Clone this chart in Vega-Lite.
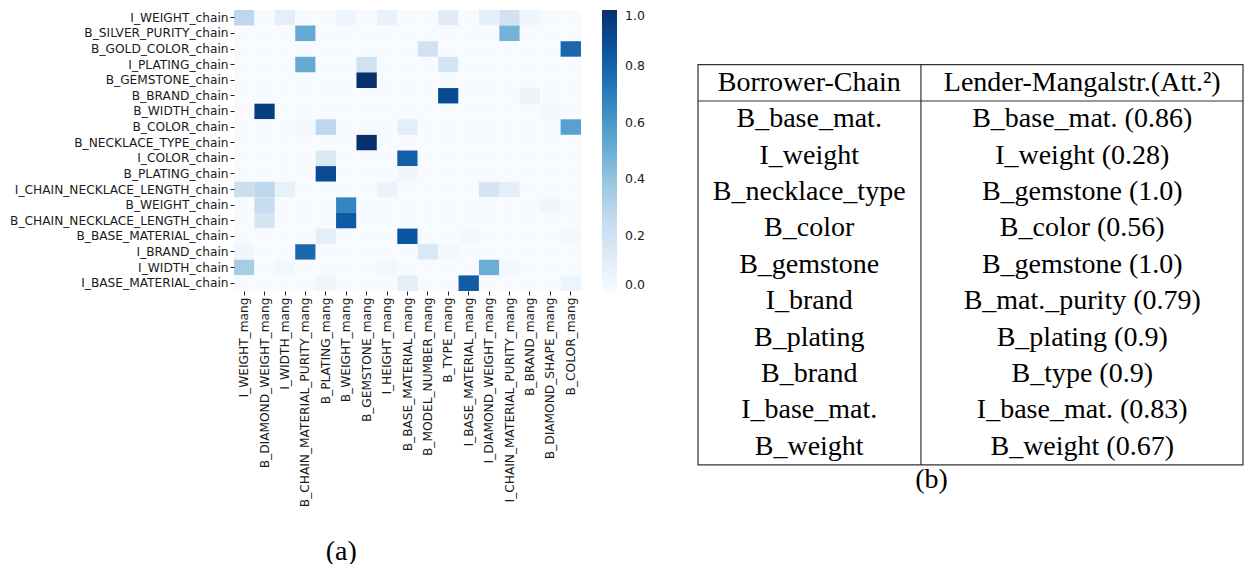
{
  "$schema": "https://vega.github.io/schema/vega-lite/v6.json",
  "padding": {"left": 9, "top": 10, "right": 0, "bottom": 0},
  "config": {"view": {"stroke": null}, "font": "DejaVu Sans"},
  "resolve": {"scale": {"color": "independent"}, "legend": {"color": "independent"}},
  "datasets": {
    "rowNames": [
      {"r": 0, "rn": "I_WEIGHT_chain"}, {"r": 1, "rn": "B_SILVER_PURITY_chain"}, {"r": 2, "rn": "B_GOLD_COLOR_chain"},
      {"r": 3, "rn": "I_PLATING_chain"}, {"r": 4, "rn": "B_GEMSTONE_chain"}, {"r": 5, "rn": "B_BRAND_chain"},
      {"r": 6, "rn": "B_WIDTH_chain"}, {"r": 7, "rn": "B_COLOR_chain"}, {"r": 8, "rn": "B_NECKLACE_TYPE_chain"},
      {"r": 9, "rn": "I_COLOR_chain"}, {"r": 10, "rn": "B_PLATING_chain"}, {"r": 11, "rn": "I_CHAIN_NECKLACE_LENGTH_chain"},
      {"r": 12, "rn": "B_WEIGHT_chain"}, {"r": 13, "rn": "B_CHAIN_NECKLACE_LENGTH_chain"}, {"r": 14, "rn": "B_BASE_MATERIAL_chain"},
      {"r": 15, "rn": "I_BRAND_chain"}, {"r": 16, "rn": "I_WIDTH_chain"}, {"r": 17, "rn": "I_BASE_MATERIAL_chain"}
    ],
    "colNames": [
      {"c": 0, "cn": "I_WEIGHT_mang"}, {"c": 1, "cn": "B_DIAMOND_WEIGHT_mang"}, {"c": 2, "cn": "I_WIDTH_mang"},
      {"c": 3, "cn": "B_CHAIN_MATERIAL_PURITY_mang"}, {"c": 4, "cn": "B_PLATING_mang"}, {"c": 5, "cn": "B_WEIGHT_mang"},
      {"c": 6, "cn": "B_GEMSTONE_mang"}, {"c": 7, "cn": "I_HEIGHT_mang"}, {"c": 8, "cn": "B_BASE_MATERIAL_mang"},
      {"c": 9, "cn": "B_MODEL_NUMBER_mang"}, {"c": 10, "cn": "B_TYPE_mang"}, {"c": 11, "cn": "I_BASE_MATERIAL_mang"},
      {"c": 12, "cn": "I_DIAMOND_WEIGHT_mang"}, {"c": 13, "cn": "I_CHAIN_MATERIAL_PURITY_mang"}, {"c": 14, "cn": "B_BRAND_mang"},
      {"c": 15, "cn": "B_DIAMOND_SHAPE_mang"}, {"c": 16, "cn": "B_COLOR_mang"}
    ],
    "cells": [
      {"r":0,"c":0,"v":0.28},{"r":0,"c":1,"v":0},{"r":0,"c":2,"v":0.1},{"r":0,"c":3,"v":0},{"r":0,"c":4,"v":0},{"r":0,"c":5,"v":0.05},{"r":0,"c":6,"v":0},{"r":0,"c":7,"v":0.07},{"r":0,"c":8,"v":0},{"r":0,"c":9,"v":0},{"r":0,"c":10,"v":0.12},{"r":0,"c":11,"v":0},{"r":0,"c":12,"v":0.09},{"r":0,"c":13,"v":0.2},{"r":0,"c":14,"v":0.04},{"r":0,"c":15,"v":0},{"r":0,"c":16,"v":0},
      {"r":1,"c":0,"v":0},{"r":1,"c":1,"v":0},{"r":1,"c":2,"v":0},{"r":1,"c":3,"v":0.52},{"r":1,"c":4,"v":0},{"r":1,"c":5,"v":0},{"r":1,"c":6,"v":0},{"r":1,"c":7,"v":0},{"r":1,"c":8,"v":0},{"r":1,"c":9,"v":0},{"r":1,"c":10,"v":0},{"r":1,"c":11,"v":0},{"r":1,"c":12,"v":0},{"r":1,"c":13,"v":0.48},{"r":1,"c":14,"v":0},{"r":1,"c":15,"v":0},{"r":1,"c":16,"v":0},
      {"r":2,"c":0,"v":0},{"r":2,"c":1,"v":0},{"r":2,"c":2,"v":0},{"r":2,"c":3,"v":0},{"r":2,"c":4,"v":0},{"r":2,"c":5,"v":0},{"r":2,"c":6,"v":0},{"r":2,"c":7,"v":0},{"r":2,"c":8,"v":0},{"r":2,"c":9,"v":0.2},{"r":2,"c":10,"v":0},{"r":2,"c":11,"v":0},{"r":2,"c":12,"v":0},{"r":2,"c":13,"v":0},{"r":2,"c":14,"v":0},{"r":2,"c":15,"v":0},{"r":2,"c":16,"v":0.79},
      {"r":3,"c":0,"v":0},{"r":3,"c":1,"v":0},{"r":3,"c":2,"v":0},{"r":3,"c":3,"v":0.52},{"r":3,"c":4,"v":0},{"r":3,"c":5,"v":0},{"r":3,"c":6,"v":0.2},{"r":3,"c":7,"v":0},{"r":3,"c":8,"v":0},{"r":3,"c":9,"v":0},{"r":3,"c":10,"v":0.17},{"r":3,"c":11,"v":0},{"r":3,"c":12,"v":0},{"r":3,"c":13,"v":0},{"r":3,"c":14,"v":0},{"r":3,"c":15,"v":0},{"r":3,"c":16,"v":0},
      {"r":4,"c":0,"v":0},{"r":4,"c":1,"v":0},{"r":4,"c":2,"v":0},{"r":4,"c":3,"v":0},{"r":4,"c":4,"v":0},{"r":4,"c":5,"v":0},{"r":4,"c":6,"v":1.0},{"r":4,"c":7,"v":0},{"r":4,"c":8,"v":0},{"r":4,"c":9,"v":0},{"r":4,"c":10,"v":0},{"r":4,"c":11,"v":0},{"r":4,"c":12,"v":0},{"r":4,"c":13,"v":0},{"r":4,"c":14,"v":0},{"r":4,"c":15,"v":0},{"r":4,"c":16,"v":0},
      {"r":5,"c":0,"v":0},{"r":5,"c":1,"v":0},{"r":5,"c":2,"v":0},{"r":5,"c":3,"v":0},{"r":5,"c":4,"v":0},{"r":5,"c":5,"v":0},{"r":5,"c":6,"v":0},{"r":5,"c":7,"v":0},{"r":5,"c":8,"v":0},{"r":5,"c":9,"v":0},{"r":5,"c":10,"v":0.9},{"r":5,"c":11,"v":0},{"r":5,"c":12,"v":0},{"r":5,"c":13,"v":0},{"r":5,"c":14,"v":0.06},{"r":5,"c":15,"v":0},{"r":5,"c":16,"v":0},
      {"r":6,"c":0,"v":0},{"r":6,"c":1,"v":0.95},{"r":6,"c":2,"v":0},{"r":6,"c":3,"v":0},{"r":6,"c":4,"v":0},{"r":6,"c":5,"v":0},{"r":6,"c":6,"v":0},{"r":6,"c":7,"v":0},{"r":6,"c":8,"v":0},{"r":6,"c":9,"v":0},{"r":6,"c":10,"v":0},{"r":6,"c":11,"v":0},{"r":6,"c":12,"v":0},{"r":6,"c":13,"v":0},{"r":6,"c":14,"v":0},{"r":6,"c":15,"v":0.03},{"r":6,"c":16,"v":0},
      {"r":7,"c":0,"v":0},{"r":7,"c":1,"v":0},{"r":7,"c":2,"v":0},{"r":7,"c":3,"v":0.02},{"r":7,"c":4,"v":0.28},{"r":7,"c":5,"v":0},{"r":7,"c":6,"v":0},{"r":7,"c":7,"v":0},{"r":7,"c":8,"v":0.1},{"r":7,"c":9,"v":0},{"r":7,"c":10,"v":0},{"r":7,"c":11,"v":0},{"r":7,"c":12,"v":0},{"r":7,"c":13,"v":0},{"r":7,"c":14,"v":0},{"r":7,"c":15,"v":0},{"r":7,"c":16,"v":0.56},
      {"r":8,"c":0,"v":0},{"r":8,"c":1,"v":0},{"r":8,"c":2,"v":0},{"r":8,"c":3,"v":0},{"r":8,"c":4,"v":0},{"r":8,"c":5,"v":0},{"r":8,"c":6,"v":1.0},{"r":8,"c":7,"v":0},{"r":8,"c":8,"v":0},{"r":8,"c":9,"v":0},{"r":8,"c":10,"v":0},{"r":8,"c":11,"v":0},{"r":8,"c":12,"v":0},{"r":8,"c":13,"v":0},{"r":8,"c":14,"v":0},{"r":8,"c":15,"v":0},{"r":8,"c":16,"v":0},
      {"r":9,"c":0,"v":0},{"r":9,"c":1,"v":0},{"r":9,"c":2,"v":0},{"r":9,"c":3,"v":0},{"r":9,"c":4,"v":0.15},{"r":9,"c":5,"v":0},{"r":9,"c":6,"v":0},{"r":9,"c":7,"v":0},{"r":9,"c":8,"v":0.82},{"r":9,"c":9,"v":0},{"r":9,"c":10,"v":0},{"r":9,"c":11,"v":0},{"r":9,"c":12,"v":0},{"r":9,"c":13,"v":0},{"r":9,"c":14,"v":0},{"r":9,"c":15,"v":0},{"r":9,"c":16,"v":0},
      {"r":10,"c":0,"v":0},{"r":10,"c":1,"v":0},{"r":10,"c":2,"v":0},{"r":10,"c":3,"v":0},{"r":10,"c":4,"v":0.9},{"r":10,"c":5,"v":0},{"r":10,"c":6,"v":0},{"r":10,"c":7,"v":0},{"r":10,"c":8,"v":0.04},{"r":10,"c":9,"v":0},{"r":10,"c":10,"v":0},{"r":10,"c":11,"v":0},{"r":10,"c":12,"v":0},{"r":10,"c":13,"v":0},{"r":10,"c":14,"v":0},{"r":10,"c":15,"v":0},{"r":10,"c":16,"v":0},
      {"r":11,"c":0,"v":0.22},{"r":11,"c":1,"v":0.28},{"r":11,"c":2,"v":0.08},{"r":11,"c":3,"v":0},{"r":11,"c":4,"v":0},{"r":11,"c":5,"v":0},{"r":11,"c":6,"v":0},{"r":11,"c":7,"v":0.06},{"r":11,"c":8,"v":0},{"r":11,"c":9,"v":0},{"r":11,"c":10,"v":0},{"r":11,"c":11,"v":0},{"r":11,"c":12,"v":0.17},{"r":11,"c":13,"v":0.1},{"r":11,"c":14,"v":0},{"r":11,"c":15,"v":0},{"r":11,"c":16,"v":0},
      {"r":12,"c":0,"v":0},{"r":12,"c":1,"v":0.25},{"r":12,"c":2,"v":0},{"r":12,"c":3,"v":0},{"r":12,"c":4,"v":0},{"r":12,"c":5,"v":0.67},{"r":12,"c":6,"v":0},{"r":12,"c":7,"v":0},{"r":12,"c":8,"v":0},{"r":12,"c":9,"v":0},{"r":12,"c":10,"v":0},{"r":12,"c":11,"v":0},{"r":12,"c":12,"v":0},{"r":12,"c":13,"v":0},{"r":12,"c":14,"v":0},{"r":12,"c":15,"v":0.04},{"r":12,"c":16,"v":0},
      {"r":13,"c":0,"v":0},{"r":13,"c":1,"v":0.17},{"r":13,"c":2,"v":0},{"r":13,"c":3,"v":0},{"r":13,"c":4,"v":0},{"r":13,"c":5,"v":0.84},{"r":13,"c":6,"v":0},{"r":13,"c":7,"v":0},{"r":13,"c":8,"v":0},{"r":13,"c":9,"v":0},{"r":13,"c":10,"v":0},{"r":13,"c":11,"v":0},{"r":13,"c":12,"v":0},{"r":13,"c":13,"v":0},{"r":13,"c":14,"v":0},{"r":13,"c":15,"v":0},{"r":13,"c":16,"v":0},
      {"r":14,"c":0,"v":0},{"r":14,"c":1,"v":0},{"r":14,"c":2,"v":0},{"r":14,"c":3,"v":0},{"r":14,"c":4,"v":0.1},{"r":14,"c":5,"v":0},{"r":14,"c":6,"v":0},{"r":14,"c":7,"v":0},{"r":14,"c":8,"v":0.86},{"r":14,"c":9,"v":0},{"r":14,"c":10,"v":0},{"r":14,"c":11,"v":0.02},{"r":14,"c":12,"v":0},{"r":14,"c":13,"v":0},{"r":14,"c":14,"v":0},{"r":14,"c":15,"v":0},{"r":14,"c":16,"v":0.02},
      {"r":15,"c":0,"v":0.04},{"r":15,"c":1,"v":0},{"r":15,"c":2,"v":0},{"r":15,"c":3,"v":0.79},{"r":15,"c":4,"v":0},{"r":15,"c":5,"v":0},{"r":15,"c":6,"v":0},{"r":15,"c":7,"v":0},{"r":15,"c":8,"v":0},{"r":15,"c":9,"v":0.15},{"r":15,"c":10,"v":0.02},{"r":15,"c":11,"v":0},{"r":15,"c":12,"v":0},{"r":15,"c":13,"v":0},{"r":15,"c":14,"v":0},{"r":15,"c":15,"v":0},{"r":15,"c":16,"v":0},
      {"r":16,"c":0,"v":0.35},{"r":16,"c":1,"v":0},{"r":16,"c":2,"v":0.03},{"r":16,"c":3,"v":0},{"r":16,"c":4,"v":0},{"r":16,"c":5,"v":0},{"r":16,"c":6,"v":0},{"r":16,"c":7,"v":0.03},{"r":16,"c":8,"v":0},{"r":16,"c":9,"v":0},{"r":16,"c":10,"v":0},{"r":16,"c":11,"v":0},{"r":16,"c":12,"v":0.5},{"r":16,"c":13,"v":0.02},{"r":16,"c":14,"v":0},{"r":16,"c":15,"v":0},{"r":16,"c":16,"v":0},
      {"r":17,"c":0,"v":0},{"r":17,"c":1,"v":0},{"r":17,"c":2,"v":0},{"r":17,"c":3,"v":0},{"r":17,"c":4,"v":0.04},{"r":17,"c":5,"v":0},{"r":17,"c":6,"v":0},{"r":17,"c":7,"v":0},{"r":17,"c":8,"v":0.1},{"r":17,"c":9,"v":0},{"r":17,"c":10,"v":0},{"r":17,"c":11,"v":0.83},{"r":17,"c":12,"v":0},{"r":17,"c":13,"v":0},{"r":17,"c":14,"v":0},{"r":17,"c":15,"v":0},{"r":17,"c":16,"v":0.05}
    ],
    "table": [
      {"i": 0, "b": "Borrower-Chain", "l": "Lender-Mangalstr.(Att.²)"},
      {"i": 1, "b": "B_base_mat.", "l": "B_base_mat. (0.86)"},
      {"i": 2, "b": "I_weight", "l": "I_weight (0.28)"},
      {"i": 3, "b": "B_necklace_type", "l": "B_gemstone (1.0)"},
      {"i": 4, "b": "B_color", "l": "B_color (0.56)"},
      {"i": 5, "b": "B_gemstone", "l": "B_gemstone (1.0)"},
      {"i": 6, "b": "I_brand", "l": "B_mat._purity (0.79)"},
      {"i": 7, "b": "B_plating", "l": "B_plating (0.9)"},
      {"i": 8, "b": "B_brand", "l": "B_type (0.9)"},
      {"i": 9, "b": "I_base_mat.", "l": "I_base_mat. (0.83)"},
      {"i": 10, "b": "B_weight", "l": "B_weight (0.67)"}
    ]
  },
  "bounds": "flush",
  "spacing": 117,
  "hconcat": [
    {
      "width": 347,
      "height": 281,
      "data": {"name": "cells"},
      "transform": [
        {"lookup": "r", "from": {"data": {"name": "rowNames"}, "key": "r", "fields": ["rn"]}},
        {"lookup": "c", "from": {"data": {"name": "colNames"}, "key": "c", "fields": ["cn"]}}
      ],
      "title": {"text": "(a)", "orient": "bottom", "font": "Liberation Serif", "fontSize": 28, "fontWeight": "normal", "anchor": "middle", "frame": "bounds", "offset": 31, "dx": 14, "color": "#000"},
      "mark": {"type": "rect"},
      "encoding": {
        "x": {"field": "cn", "type": "nominal", "sort": {"field": "c", "op": "min"},
              "scale": {"paddingInner": 0, "paddingOuter": 0},
              "axis": {"title": null, "labelAngle": -90, "labelFont": "DejaVu Sans", "labelFontSize": 12.2, "labelLimit": 400, "tickSize": 4, "tickColor": "#222", "labelColor": "#1a1a1a", "domain": false, "labelPadding": 2}},
        "y": {"field": "rn", "type": "nominal", "sort": {"field": "r", "op": "min"},
              "scale": {"paddingInner": 0, "paddingOuter": 0},
              "axis": {"title": null, "labelFont": "DejaVu Sans", "labelFontSize": 12.2, "labelLimit": 400, "tickSize": 4, "tickColor": "#222", "labelColor": "#1a1a1a", "domain": false, "labelPadding": 2}},
        "color": {"field": "v", "type": "quantitative",
                  "scale": {"domain": [0, 0.125, 0.25, 0.375, 0.5, 0.625, 0.75, 0.875, 1],
                            "range": ["#f7fbff", "#deebf7", "#c6dbef", "#9ecae1", "#6baed6", "#4292c6", "#2171b5", "#08519c", "#08306b"]},
                  "legend": {"title": null, "gradientLength": 282, "gradientThickness": 15, "values": [0, 0.2, 0.4, 0.6, 0.8, 1],
                             "format": ".1f", "labelFont": "DejaVu Sans", "labelFontSize": 12.5, "labelColor": "#1a1a1a", "offset": 21,
                             "gradientStrokeWidth": 0, "labelOverlap": false, "labelOffset": 8}}
      }
    },
    {
      "width": 545,
      "height": 458.6,
      "title": {"text": "(b)", "orient": "bottom", "font": "Liberation Serif", "fontSize": 28, "fontWeight": "normal", "anchor": "middle", "offset": -3, "dx": -39, "color": "#000"},
      "layer": [
        {
          "data": {"values": [{}]},
          "mark": {"type": "rect", "fill": null, "stroke": "#333", "strokeWidth": 1.2},
          "encoding": {
            "x": {"datum": 0, "type": "quantitative", "scale": {"domain": [0, 1], "nice": false, "zero": false}, "axis": null},
            "x2": {"datum": 1},
            "y": {"datum": -0.5, "type": "quantitative", "scale": {"domain": [-2, 10.6], "nice": false, "zero": false, "reverse": true}, "axis": null},
            "y2": {"datum": 10.5}
          }
        },
        {
          "data": {"values": [{}]},
          "mark": {"type": "rule", "stroke": "#333", "strokeWidth": 1.2},
          "encoding": {
            "x": {"datum": 0, "type": "quantitative"},
            "x2": {"datum": 1},
            "y": {"datum": 0.5, "type": "quantitative"}
          }
        },
        {
          "data": {"values": [{}]},
          "mark": {"type": "rule", "stroke": "#333", "strokeWidth": 1.2},
          "encoding": {
            "x": {"datum": 0.409, "type": "quantitative"},
            "y": {"datum": -0.5, "type": "quantitative"},
            "y2": {"datum": 10.5}
          }
        },
        {
          "data": {"name": "table"},
          "mark": {"type": "text", "font": "Liberation Serif", "fontSize": 28, "baseline": "middle", "align": "center", "color": "#000"},
          "encoding": {
            "x": {"datum": 0.204, "type": "quantitative"},
            "y": {"field": "i", "type": "quantitative"},
            "text": {"field": "b"}
          }
        },
        {
          "data": {"name": "table"},
          "mark": {"type": "text", "font": "Liberation Serif", "fontSize": 28, "baseline": "middle", "align": "center", "color": "#000"},
          "encoding": {
            "x": {"datum": 0.705, "type": "quantitative"},
            "y": {"field": "i", "type": "quantitative"},
            "text": {"field": "l"}
          }
        }
      ]
    }
  ]
}
